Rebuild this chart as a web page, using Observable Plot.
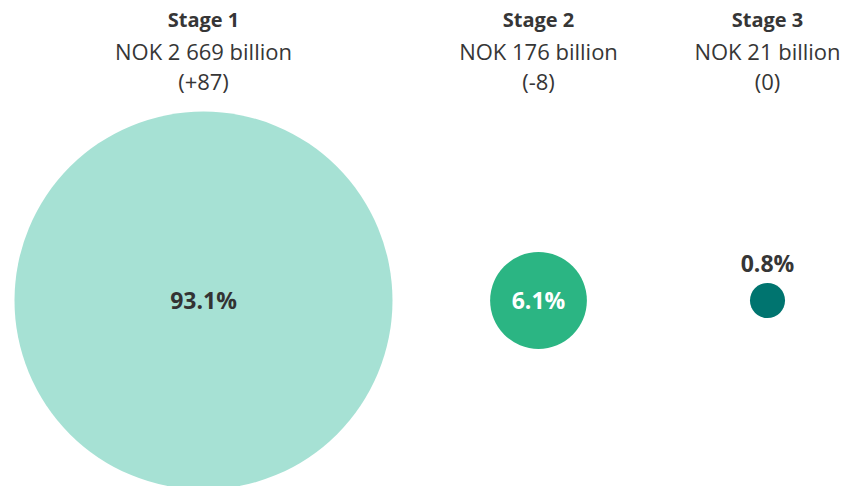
<!DOCTYPE html>
<html>
<head>
<meta charset="utf-8">
<script src="https://cdn.jsdelivr.net/npm/d3@7"></script>
<script src="https://cdn.jsdelivr.net/npm/@observablehq/plot@0.6"></script>
<style>
  html, body { margin: 0; padding: 0; background: #fff; }
  #chart svg { display: block; }
</style>
</head>
<body>
<div id="chart"></div>
<script>
const stages = ["Stage 1", "Stage 2", "Stage 3"];
const amounts = ["NOK 2 669 billion", "NOK 176 billion", "NOK 21 billion"];
const changes = ["(+87)", "(-8)", "(0)"];
const shares = [93.1, 6.1, 0.8];
const shareLabels = ["93.1%", "6.1%", "0.8%"];
const colors = ["#a6e1d4", "#2bb583", "#00746f"];
const labelColors = ["#333333", "#ffffff", "#333333"];

const data = stages.map((s, i) => ({
  stage: s, amount: amounts[i], change: changes[i],
  share: shares[i], label: shareLabels[i], labelColor: labelColors[i]
}));

const font = "'Open Sans', 'Noto Sans', sans-serif";
const textColor = "#363636";

const chart = Plot.plot({
  width: 851,
  height: 486,
  marginTop: 114,
  marginBottom: 0,
  marginLeft: 0,
  marginRight: 0,
  style: { fontFamily: font, background: "#fff" },
  x: { type: "ordinal", domain: stages, range: [203, 538, 767], axis: null },
  r: { type: "sqrt", domain: [0, 93.1], range: [0, 189] },
  color: { type: "ordinal", domain: stages, range: colors },
  marks: [
    Plot.dot(data, { x: "stage", r: "share", fill: "stage", stroke: null, frameAnchor: "middle" }),
    Plot.text(data.filter(d => d.share > 2), {
      x: "stage", text: "label", fill: "labelColor", frameAnchor: "middle",
      fontSize: 23, fontWeight: "bold", dy: 1
    }),
    Plot.text(data.filter(d => d.share <= 2), {
      x: "stage", text: "label", fill: textColor, frameAnchor: "middle",
      fontSize: 23, fontWeight: "bold", lineAnchor: "bottom", dy: -29
    }),
    Plot.text(data, {
      x: "stage", text: "stage", fill: textColor, frameAnchor: "top",
      fontSize: 20, fontWeight: "bold", lineAnchor: "bottom", dy: -88
    }),
    Plot.text(data, {
      x: "stage", text: "amount", fill: textColor, frameAnchor: "top",
      fontSize: 22, lineAnchor: "bottom", dy: -55
    }),
    Plot.text(data, {
      x: "stage", text: "change", fill: textColor, frameAnchor: "top",
      fontSize: 22, lineAnchor: "bottom", dy: -25
    })
  ]
});
document.getElementById("chart").appendChild(chart);
</script>
</body>
</html>
